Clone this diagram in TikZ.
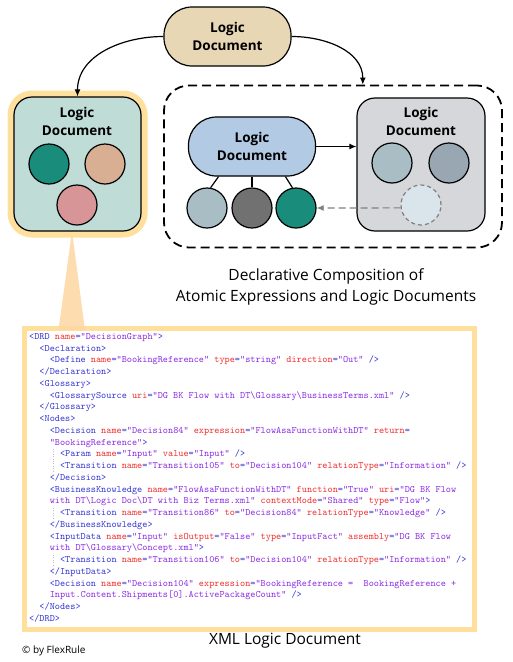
\documentclass[tikz,border=0pt]{standalone}
\usepackage{fontspec}
\setmainfont{Open Sans}
\usepackage{xcolor}
\usetikzlibrary{arrows.meta, positioning}

\definecolor{glow}{HTML}{FFDF9C}
\definecolor{funnel}{HTML}{FDD7A2}
\definecolor{tealbox}{HTML}{C0DCD7}
\definecolor{tanpill}{HTML}{E8D7B5}
\definecolor{bluepill}{HTML}{B2CAE3}
\definecolor{graybox}{HTML}{D6D7DA}
\definecolor{cteal}{HTML}{1A8C7B}
\definecolor{ctan}{HTML}{D9AF93}
\definecolor{cpink}{HTML}{D79597}
\definecolor{csteel}{HTML}{A9BDC4}
\definecolor{cdark}{HTML}{717171}
\definecolor{cslate}{HTML}{98A7B2}
\definecolor{cghost}{HTML}{D9E5EA}
\definecolor{xmltag}{HTML}{3434D2}
\definecolor{xmlattr}{HTML}{F02C2C}
\definecolor{xmlval}{HTML}{8A2BE2}

% xml colouring
\newcommand{\xtag}[1]{\textcolor{xmltag}{#1}}
\newcommand{\xattr}[1]{\textcolor{xmlattr}{#1}}
\newcommand{\xval}[1]{\textcolor{xmlval}{#1}}
\newcommand{\xpair}[2]{\xattr{#1}\xtag{=}\xval{"#2"}}
\newcommand{\xind}[1]{\hspace*{#1\dimexpr 1.05em\relax}}

\begin{document}
\begin{tikzpicture}[
        x=1pt, y=-1pt,
        doc/.style={rectangle, rounded corners=18pt, draw, line width=1.2pt, minimum width=127pt, minimum height=134pt},
        pill/.style={rectangle, rounded corners=28pt, draw, line width=1.2pt, minimum width=127pt, minimum height=59pt, align=center, font=\bfseries\fontsize{13.5}{18}\selectfont},
        title/.style={align=center, font=\bfseries\fontsize{13.5}{18}\selectfont},
        atom/.style={circle, draw, line width=1.2pt, minimum size=40pt, inner sep=0pt},
        caption/.style={align=center, font=\fontsize{15.5}{21}\selectfont},
        arrow/.style={->, >={Latex[length=7pt,width=6pt]}, line width=1.2pt}
    ]
    \useasboundingbox (0,0) rectangle (512,662);

    % xml box and funnel
    \node (xmlbox) [draw=glow, line width=5pt, minimum width=450pt, minimum height=301pt] at (249.5,479) {};
    \fill[funnel, opacity=0.85] (72,231) -- (58.5,330) -- (85,330) -- cycle;
    \node (xml) [anchor=north west, inner sep=0pt, align=left, font=\ttfamily\fontsize{9.8}{11.75}\selectfont] at (29,333) {%
        \xtag{<DRD} \xpair{name}{DecisionGraph}\xtag{>}\\
        \xind{1}\xtag{<Declaration>}\\
        \xind{2}\xtag{<Define} \xpair{name}{BookingReference} \xpair{type}{string} \xpair{direction}{Out} \xtag{/>}\\
        \xind{1}\xtag{</Declaration>}\\
        \xind{1}\xtag{<Glossary>}\\
        \xind{2}\xtag{<GlossarySource} \xpair{uri}{DG BK Flow with DT\textbackslash Glossary\textbackslash BusinessTerms.xml} \xtag{/>}\\
        \xind{1}\xtag{</Glossary>}\\
        \xind{1}\xtag{<Nodes>}\\
        \xind{2}\xtag{<Decision} \xpair{name}{Decision84} \xpair{expression}{FlowAsaFunctionWithDT} \xattr{return}\xtag{=}\\
        \xind{2}\xval{"BookingReference"}\xtag{>}\\
        \xind{3}\xtag{<Param} \xpair{name}{Input} \xpair{value}{Input} \xtag{/>}\\
        \xind{3}\xtag{<Transition} \xpair{name}{Transition105} \xpair{to}{Decision104} \xpair{relationType}{Information} \xtag{/>}\\
        \xind{2}\xtag{</Decision>}\\
        \xind{2}\xtag{<BusinessKnowledge} \xpair{name}{FlowAsaFunctionWithDT} \xpair{function}{True} \xattr{uri}\xtag{=}\xval{"DG BK Flow}\\
        \xind{2}\xval{with DT\textbackslash Logic Doc\textbackslash DT with Biz Terms.xml"} \xpair{contextMode}{Shared} \xpair{type}{Flow}\xtag{>}\\
        \xind{3}\xtag{<Transition} \xpair{name}{Transition86} \xpair{to}{Decision84} \xpair{relationType}{Knowledge} \xtag{/>}\\
        \xind{2}\xtag{</BusinessKnowledge>}\\
        \xind{2}\xtag{<InputData} \xpair{name}{Input} \xpair{isOutput}{False} \xpair{type}{InputFact} \xattr{assembly}\xtag{=}\xval{"DG BK Flow}\\
        \xind{2}\xval{with DT\textbackslash Glossary\textbackslash Concept.xml"}\xtag{>}\\
        \xind{3}\xtag{<Transition} \xpair{name}{Transition106} \xpair{to}{Decision104} \xpair{relationType}{Information} \xtag{/>}\\
        \xind{2}\xtag{</InputData>}\\
        \xind{2}\xtag{<Decision} \xpair{name}{Decision104} \xattr{expression}\xtag{=}\xval{"BookingReference =\ \ BookingReference +}\\
        \xind{2}\xval{Input.Content.Shipments[0].ActivePackageCount"} \xtag{/>}\\
        \xind{1}\xtag{</Nodes>}\\
        \xtag{</DRD>}};
    \draw[gray!50, dotted] (53,449) -- (53,472);
    \draw[gray!50, dotted] (53,508) -- (53,519);
    \draw[gray!50, dotted] (53,555) -- (53,566);

    % top logic document
    \node (top) [pill, fill=tanpill] at (227.5,36.5) {Logic\\Document};

    % left document
    \node (ldoc) [doc, fill=tealbox, preaction={draw=glow, line width=13pt}] at (77.5,164) {};
    \node (ltitle) [title] at (77,121) {Logic\\Document};
    \node (l1) [atom, fill=cteal] at (49,164) {};
    \node (l2) [atom, fill=ctan] at (105,164) {};
    \node (l3) [atom, fill=cpink] at (77,205) {};

    % composition
    \node (frame) [draw, dashed, dash pattern=on 9pt off 5pt, line width=1.8pt, rounded corners=25pt, minimum width=338pt, minimum height=162pt] at (333,166.5) {};
    \node (bpill) [pill, fill=bluepill] at (252,146.5) {Logic\\Document};
    \node (a1) [atom, fill=csteel] at (207,208) {};
    \node (a2) [atom, fill=cdark] at (252,208) {};
    \node (a3) [atom, fill=cteal] at (296,208) {};
    \node (gdoc) [doc, fill=graybox, minimum width=128pt, minimum height=133pt] at (421,164.5) {};
    \node (gtitle) [title] at (421,121.5) {Logic\\Document};
    \node (g1) [atom, fill=csteel] at (392,163) {};
    \node (g2) [atom, fill=cslate] at (449,163) {};
    \node (ghost) [atom, fill=cghost, draw=gray, dash pattern=on 4pt off 3pt] at (421,205) {};

    % connectors
    \draw[arrow] (top.west) to[out=180, in=90] (ldoc.north);
    \draw[arrow] (top.east) to[out=0, in=90] (frame.70);
    \draw[line width=1.2pt] (bpill.222) -- (a1.80);
    \draw[line width=1.2pt] (bpill.south) -- (a2.north);
    \draw[line width=1.2pt] (bpill.318) -- (a3.100);
    \draw[arrow] (bpill.east) -- (bpill.east -| gdoc.west);
    \draw[arrow, gray, dashed, dash pattern=on 7pt off 4pt] (ghost.188) -- (a3.east);

    % captions
    \node (capcomp) [caption] at (326,287) {Declarative Composition of\\Atomic Expressions and Logic Documents};
    \node (capxml) [caption] at (285,641) {XML Logic Document};
    \node (credit) [anchor=west, inner sep=0pt, font=\fontsize{10}{12}\selectfont] at (22,651) {© by FlexRule};
\end{tikzpicture}
\end{document}
